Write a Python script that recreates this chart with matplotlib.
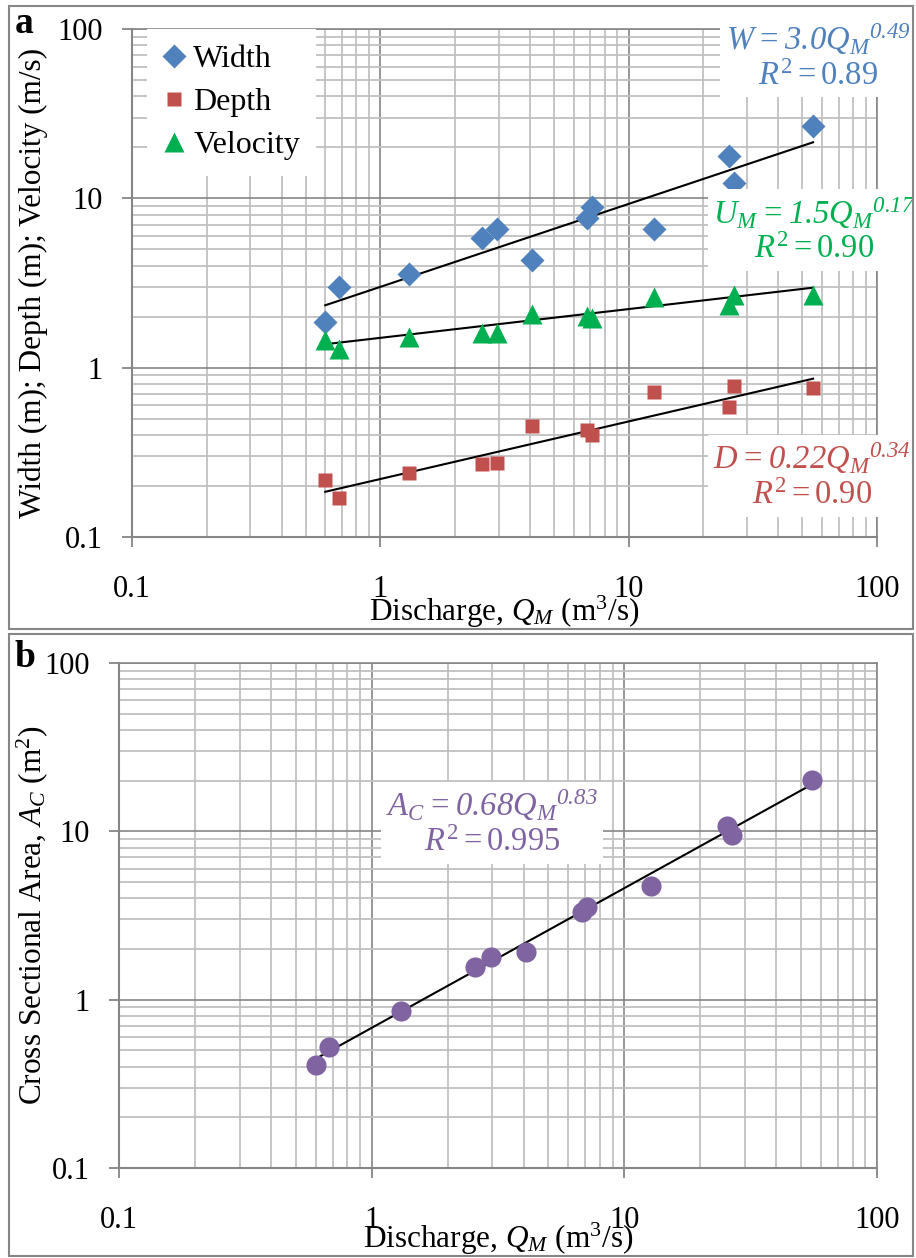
import numpy as np
import matplotlib
matplotlib.use('Agg')
import matplotlib.pyplot as plt
from matplotlib.patches import Rectangle
from matplotlib.ticker import LogLocator, NullFormatter

plt.rcParams['font.family'] = ['Liberation Serif', 'DejaVu Serif']
plt.rcParams['mathtext.fontset'] = 'custom'
plt.rcParams['mathtext.rm'] = 'Liberation Serif'
plt.rcParams['mathtext.it'] = 'Liberation Serif:italic'
plt.rcParams['mathtext.bf'] = 'Liberation Serif:bold'
plt.rcParams['mathtext.sf'] = 'Liberation Serif:italic'

# measured discharge Q_M (m3/s), one entry per survey site
discharge = [0.60, 0.68, 1.31, 2.57, 2.96, 4.09, 6.81, 7.13, 12.7, 25.4, 26.6, 55.3]
width = [1.87, 3.01, 3.55, 5.80, 6.56, 4.30, 7.62, 8.85, 6.56, 17.9, 12.3, 26.7]
depth = [0.218, 0.169, 0.238, 0.271, 0.274, 0.450, 0.430, 0.400, 0.720, 0.587, 0.776, 0.762]
velocity = [1.46, 1.29, 1.51, 1.60, 1.60, 2.08, 2.03, 1.97, 2.61, 2.36, 2.70, 2.67]
area = [0.41, 0.52, 0.855, 1.57, 1.80, 1.93, 3.33, 3.57, 4.74, 10.7, 9.53, 20.2]

# power-law trend lines y = a * Q^b, as printed on the chart
fit_width = (3.0, 0.49)
fit_depth = (0.22, 0.34)
fit_velocity = (1.5, 0.17)
fit_area = (0.68, 0.83)

ticks = [0.1, 1, 10, 100]
tick_labels = ['0.1', '1', '10', '100']

BLUE = '#4F81BD'
RED = '#C0504D'
GREEN = '#00B050'
PURPLE = '#8064A2'
MAJOR = '#868686'
MINOR = '#C0C0C0'

W, H = 916, 1258
LABEL_SIZE = 22.5


def px_axes(left, top, right, bottom):
    return [left / W, 1 - bottom / H, (right - left) / W, (bottom - top) / H]


def style_axes(ax):
    ax.set_xscale('log')
    ax.set_yscale('log')
    ax.set_xlim(0.1, 100)
    ax.set_ylim(0.1, 100)
    ax.set_xticks(ticks)
    ax.set_xticklabels(tick_labels)
    ax.set_yticks(ticks)
    ax.set_yticklabels(tick_labels)
    for axis in (ax.xaxis, ax.yaxis):
        axis.set_minor_locator(LogLocator(base=10, subs=range(2, 10)))
        axis.set_minor_formatter(NullFormatter())
    ax.tick_params(which='minor', length=0)
    ax.tick_params(which='major', direction='out', length=7, width=1.3,
                   color=MAJOR, labelsize=22)
    ax.tick_params(axis='x', pad=20)
    ax.tick_params(axis='y', pad=14)
    ax.grid(which='major', color=MAJOR, lw=1.2)
    ax.grid(which='minor', color=MINOR, lw=1.3)
    ax.set_axisbelow(True)
    for side in ('left', 'bottom'):
        ax.spines[side].set_color(MAJOR)
        ax.spines[side].set_linewidth(1.5)
    for side in ('top', 'right'):
        ax.spines[side].set_color(MAJOR)
        ax.spines[side].set_linewidth(1.2)


def trend(ax, fit):
    a, b = fit
    q = np.array([min(discharge), max(discharge)])
    ax.plot(q, a * q ** b, color='black', lw=1.5, zorder=3)


def eq_text(ax, x, y, line1, line2, color):
    ax.text(x, y, line1 + '\n' + line2, transform=ax.transAxes, ha='center',
            va='center', multialignment='center', color=color, fontsize=23.5,
            linespacing=1.18, zorder=6,
            bbox=dict(fc='white', ec='none', pad=4))


fig = plt.figure(figsize=(W / 100, H / 100), dpi=100)

# panel frames
for top, bottom in ((6, 629), (634, 1256)):
    fig.add_artist(Rectangle((9 / W, 1 - bottom / H), (913 - 9) / W, (bottom - top) / H,
                             transform=fig.transFigure, fill=False, ec=MAJOR, lw=1.5))

# ---- panel a
ax1 = fig.add_axes(px_axes(132, 29, 877, 537))
style_axes(ax1)
ax1.plot(discharge, width, 'D', color=BLUE, ms=12, mec='none', label='Width', zorder=4)
ax1.plot(discharge, depth, 's', color=RED, ms=10.5, mec='none', label='Depth', zorder=4)
ax1.plot(discharge, velocity, '^', color=GREEN, ms=15, mec='none', label='Velocity', zorder=4)
trend(ax1, fit_width)
trend(ax1, fit_depth)
trend(ax1, fit_velocity)

leg = ax1.legend(loc='upper left', bbox_to_anchor=(0.02, 1.0), borderaxespad=0,
                 fontsize=23, frameon=True, fancybox=False, framealpha=1,
                 facecolor='white', edgecolor='none', handlelength=0.7,
                 handletextpad=0.25, labelspacing=0.42, borderpad=0.5)
leg.set_zorder(7)

eq_text(ax1, 0.921, 0.946, r'$\mathsf{W=3.0Q_M{}^{0.49}}$', r'$R^2=0.89$', BLUE)
eq_text(ax1, 0.916, 0.604, r'$\mathsf{U_M=1.5Q_M{}^{0.17}}$', r'$R^2=0.90$', GREEN)
eq_text(ax1, 0.913, 0.120, r'$\mathsf{D=0.22Q_M{}^{0.34}}$', r'$R^2=0.90$', RED)

ax1.set_xlabel(r'Discharge, $Q_M$ (m$^3$/s)', fontsize=LABEL_SIZE)
ax1.xaxis.set_label_coords(0.5, -0.148)
ax1.xaxis.label.set_va('center')
ax1.set_ylabel('Width (m); Depth (m); Velocity (m/s)', fontsize=LABEL_SIZE)
ax1.yaxis.set_label_coords(-0.133, 0.5)
ax1.yaxis.label.set_va('center')

# ---- panel b
ax2 = fig.add_axes(px_axes(119, 663, 877, 1168))
style_axes(ax2)
ax2.plot(discharge, area, 'o', color=PURPLE, ms=14.5, mec='none', zorder=4)
trend(ax2, fit_area)
eq_text(ax2, 0.492, 0.683, r'$\mathsf{A_C=0.68Q_M{}^{0.83}}$', r'$R^2=0.995$', PURPLE)

ax2.set_xlabel(r'Discharge, $Q_M$ (m$^3$/s)', fontsize=LABEL_SIZE)
ax2.xaxis.set_label_coords(0.5, -0.141)
ax2.xaxis.label.set_va('center')
ax2.set_ylabel(r'Cross Sectional Area, $A_C$ (m$^2$)', fontsize=LABEL_SIZE)
ax2.yaxis.set_label_coords(-0.115, 0.5)
ax2.yaxis.label.set_va('center')

fig.text(24 / W, 1 - 33 / H, 'a', fontsize=27, fontweight='bold', ha='center', va='baseline')
fig.text(25 / W, 1 - 667 / H, 'b', fontsize=27, fontweight='bold', ha='center', va='baseline')

fig.savefig('out.png', dpi=100)
